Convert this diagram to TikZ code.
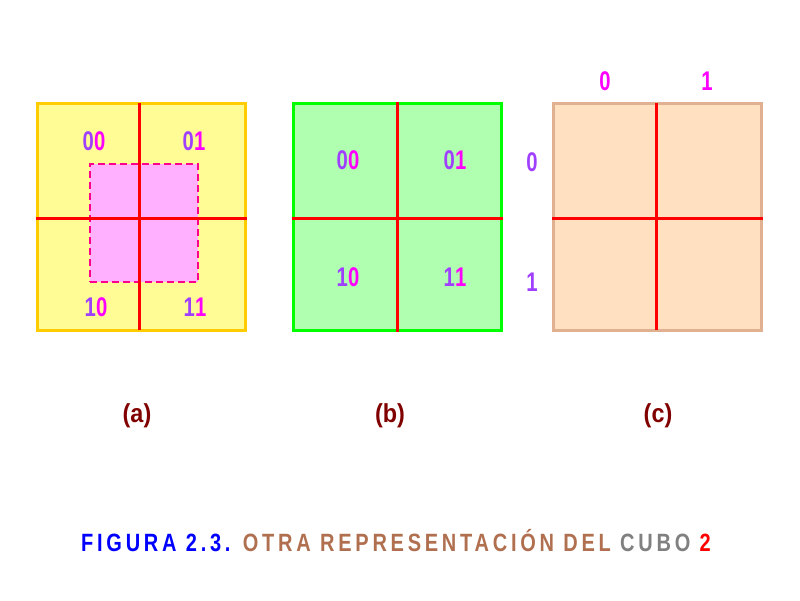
\documentclass[tikz,border=0pt]{standalone}
\usepackage{fontspec}
\usepackage{tikz}
\setmainfont{Liberation Sans}
\newfontfamily\digitfont{Liberation Sans}[FakeStretch=0.75]
\newfontfamily\capfont{Liberation Sans}[FakeStretch=0.9]
\newfontfamily\titlefont{Liberation Sans}[FakeStretch=0.8, LetterSpace=15]

\definecolor{rowbit}{HTML}{A040FF}
\definecolor{colbit}{HTML}{FF00FF}
\definecolor{earth}{HTML}{B07050}
\newcommand{\cellbits}[2]{\textcolor{rowbit}{#1}\textcolor{colbit}{#2}}

\begin{document}
\begin{tikzpicture}[
    x=1pt, y=-1pt,
    panel/.style={rectangle, draw, line width=3pt, minimum width=208pt, minimum height=227pt, inner sep=0pt},
    cross/.style={draw=red, line width=3pt},
    bits/.style={font=\digitfont\bfseries\fontsize{27}{27}\selectfont},
    caption/.style={font=\capfont\bfseries\fontsize{26}{26}\selectfont, text=red!50!black},
  ]
    \useasboundingbox (0,0) rectangle (800,600);

    % Panel (a) - map with grouped block
    \node[panel, draw={rgb,255:red,255;green,204;blue,0}, fill={rgb,255:red,255;green,252;blue,150}] (mapa) at (141,216.5) {};
    \node[rectangle, draw={rgb,255:red,255;green,0;blue,140}, fill={rgb,255:red,255;green,176;blue,255},
          dash pattern=on 7pt off 4pt, line width=2.3pt,
          minimum width=108pt, minimum height=118pt, inner sep=0pt] (block) at (144,223) {};
    \draw[cross] (139,103) -- (139,330);
    \draw[cross] (mapa.west |- 0,218) -- (mapa.east |- 0,218);
    \node[bits] (a00) at (94,141) {\cellbits{0}{0}};
    \node[bits] (a01) at (194,141) {\cellbits{0}{1}};
    \node[bits] (a10) at (96,307) {\cellbits{1}{0}};
    \node[bits] (a11) at (195,307) {\cellbits{1}{1}};

    % Panel (b) - labels inside the cells
    \node[panel, draw={rgb,255:red,0;green,255;blue,0}, fill={rgb,255:red,176;green,255;blue,176}] (mapb) at (397,216.5) {};
    \draw[cross] (mapb.north) -- (mapb.south);
    \draw[cross] (mapb.west |- 0,218) -- (mapb.east |- 0,218);
    \node[bits] (b00) at (348,160) {\cellbits{0}{0}};
    \node[bits] (b01) at (455,160) {\cellbits{0}{1}};
    \node[bits] (b10) at (348,277) {\cellbits{1}{0}};
    \node[bits] (b11) at (455,277) {\cellbits{1}{1}};

    % Panel (c) - labels outside the map
    \node[panel, draw={rgb,255:red,224;green,176;blue,144}, fill={rgb,255:red,255;green,224;blue,192}] (mapc) at (657.5,216.5) {};
    \draw[cross] (656,103) -- (656,330);
    \draw[cross] (mapc.west |- 0,218) -- (mapc.east |- 0,218);
    \node[bits, text=colbit] (c0) at (605,81) {0};
    \node[bits, text=colbit] (c1) at (707,81) {1};
    \node[bits, text=rowbit] (r0) at (532,162) {0};
    \node[bits, text=rowbit] (r1) at (532,282) {1};

    % Captions
    \node[caption] (capa) at (137,416) {(a)};
    \node[caption] (capb) at (390,416) {(b)};
    \node[caption] (capc) at (658,416) {(c)};

    % Title
    \node[font=\titlefont\bfseries\fontsize{25}{25}\selectfont] (title) at (396,541)
      {\textcolor{blue}{FIGURA 2.3.} \textcolor{earth}{OTRA REPRESENTACIÓN DEL} \textcolor{gray}{CUBO} \textcolor{red}{2}};

  \end{tikzpicture}
\end{document}
